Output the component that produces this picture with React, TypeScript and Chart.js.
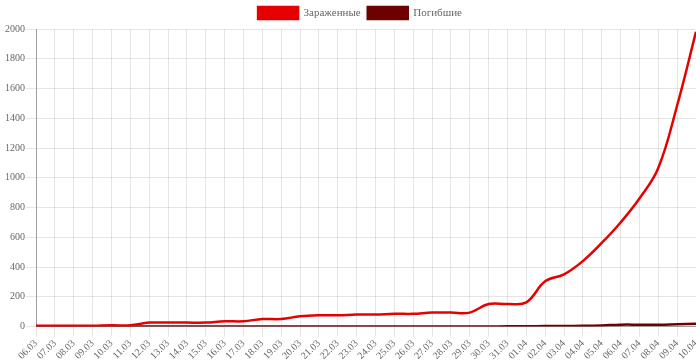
import React, { useEffect, useRef } from "react";
import { Chart, registerables } from "chart.js";

Chart.register(...registerables);

const labels: string[] = [
  "06.03", "07.03", "08.03", "09.03", "10.03", "11.03", "12.03", "13.03", "14.03",
  "15.03", "16.03", "17.03", "18.03", "19.03", "20.03", "21.03", "22.03", "23.03",
  "24.03", "25.03", "26.03", "27.03", "28.03", "29.03", "30.03", "31.03", "01.04",
  "02.04", "03.04", "04.04", "05.04", "06.04", "07.04", "08.04", "09.04", "10.04",
];

const infected: number[] = [
  6, 6, 6, 6, 9, 9, 27, 27, 27, 27, 36, 36, 51, 51, 69, 76, 76, 81,
  81, 86, 86, 94, 94, 94, 152, 152, 163, 304, 351, 440, 562, 700, 861, 1066, 1486, 1981,
];

const deaths: number[] = [
  0, 0, 0, 0, 0, 0, 0, 0, 0, 0, 0, 0, 0, 0, 0, 0, 0, 0,
  0, 0, 0, 0, 0, 0, 0, 2, 2, 4, 4, 5, 8, 13, 13, 13, 16, 19,
];

const yMax = 2000;
const yStep = 200;

const FONT = "'Liberation Serif', 'Times New Roman', serif";

const legendShift = {
  id: "legendShift",
  afterLayout(chart: any) {
    if (chart.legend) {
      chart.legend.left += 10;
      chart.legend.right += 10;
    }
  },
};

export default function App() {
  const ref = useRef<HTMLCanvasElement | null>(null);
  useEffect(() => {
    if (!ref.current) return;
    const chart = new Chart(ref.current, {
      type: "line",
      data: {
        labels,
        datasets: [
          {
            label: "Зараженные",
            data: infected,
            borderColor: "#e60000",
            backgroundColor: "#e60000",
            borderWidth: 2.5,
            pointRadius: 0,
            tension: 0.4,
            fill: false,
          },
          {
            label: "Погибшие",
            data: deaths,
            borderColor: "#6e0000",
            backgroundColor: "#6e0000",
            borderWidth: 2.5,
            pointRadius: 0,
            tension: 0.4,
            fill: false,
          },
        ],
      },
      plugins: [legendShift],
      options: {
        animation: false,
        responsive: false,
        maintainAspectRatio: false,
        layout: { padding: { left: 4, right: 0, top: 0, bottom: 0 } },
        plugins: {
          legend: {
            position: "top",
            labels: {
              boxWidth: 40,
              boxHeight: 12,
              color: "#666",
              font: { family: FONT, size: 11 },
              padding: 7,
            },
          },
          tooltip: { enabled: false },
        },
        scales: {
          x: {
            afterFit: (scale: any) => {
              scale.paddingRight = 0;
              scale.height -= 3;
            },
            grid: { color: "rgba(0,0,0,0.1)", tickLength: 10 },
            border: { color: "rgba(0,0,0,0.3)" },
            ticks: {
              color: "#666",
              font: { family: FONT, size: 10 },
              maxRotation: 45,
              minRotation: 45,
              autoSkip: false,
              padding: 1,
            },
          },
          y: {
            min: 0,
            max: yMax,
            grid: { color: "rgba(0,0,0,0.1)", tickLength: 10 },
            border: { color: "rgba(0,0,0,0.3)" },
            ticks: {
              stepSize: yStep,
              color: "#666",
              font: { family: FONT, size: 10 },
              padding: 1,
              callback: (v: any) => String(v),
            },
          },
        },
      },
    });
    return () => chart.destroy();
  }, []);
  return (
    <div style={{ position: "fixed", left: 0, top: 0, width: 696, height: 360, background: "#fff" }}>
      <canvas ref={ref} width={696} height={360} style={{ width: 696, height: 360 }} />
    </div>
  );
}
